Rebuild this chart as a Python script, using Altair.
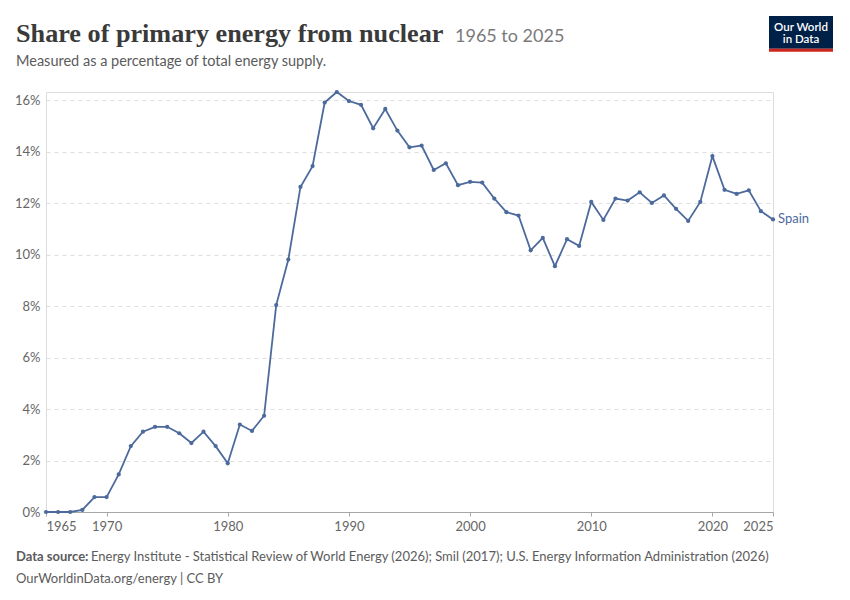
import altair as alt
import pandas as pd

years = list(range(1965, 2026))
share = [
    0.0, 0.0, 0.0, 0.08, 0.58, 0.58, 1.46, 2.56, 3.12, 3.31,
    3.31, 3.06, 2.68, 3.12, 2.56, 1.89, 3.40, 3.15, 3.74, 8.04,
    9.81, 12.63, 13.44, 15.91, 16.32, 15.97, 15.82, 14.91, 15.66, 14.82,
    14.17, 14.24, 13.29, 13.55, 12.70, 12.83, 12.80, 12.18, 11.65, 11.52,
    10.17, 10.65, 9.55, 10.60, 10.34, 12.05, 11.35, 12.18, 12.10, 12.42,
    12.01, 12.30, 11.78, 11.31, 12.05, 13.83, 12.52, 12.36, 12.50, 11.69,
    11.37,
]
country = "Spain"
x_ticks = [1965, 1970, 1980, 1990, 2000, 2010, 2020, 2025]
y_ticks = [0, 2, 4, 6, 8, 10, 12, 14, 16]

title = "Share of primary energy from nuclear"
title_range = "1965 to 2025"
subtitle = "Measured as a percentage of total energy supply."
source_label = "Data source:"
source_text = ("Energy Institute - Statistical Review of World Energy (2026); "
               "Smil (2017); U.S. Energy Information Administration (2026)")
footer = "OurWorldinData.org/energy | CC BY"

df = pd.DataFrame({"year": years, "share": share, "country": country})
last = df.tail(1)

BLUE = "#4C6A9C"
W, H = 727, 420

xs = alt.X("year:Q", scale=alt.Scale(domain=[1965, 2025], nice=False, zero=False),
           axis=alt.Axis(values=x_ticks, format="d", title=None, grid=False,
                         labelFlush=True, domainColor="#a6a6a6", tickColor="#a6a6a6",
                         tickSize=4, labelColor="#666666", labelFont="Lato",
                         labelFontSize=13, labelPadding=4))
ys = alt.Y("share:Q", scale=alt.Scale(domain=[0, 16.32], nice=False),
           axis=alt.Axis(values=y_ticks, labelExpr="datum.value + '%'", title=None,
                         domain=False, ticks=False, grid=True, gridDash=[4, 4],
                         gridColor="#dddddd", labelColor="#666666", labelFont="Lato",
                         labelFontSize=13, labelPadding=6))

line = alt.Chart(df).mark_line(color=BLUE, strokeWidth=1.8).encode(x=xs, y=ys)
pts = alt.Chart(df).mark_point(color=BLUE, filled=True, size=18, opacity=1).encode(x=xs, y=ys)
lab = alt.Chart(last).mark_text(color=BLUE, align="left", baseline="middle", dx=5,
                                font="Lato", fontSize=13).encode(x=xs, y=ys, text="country:N")


def txt(s, x, y, **kw):
    return alt.Chart(pd.DataFrame({"t": [s]})).mark_text(
        align=kw.pop("align", "left"), baseline="alphabetic", **kw
    ).encode(text="t:N", x=alt.value(x), y=alt.value(y))


t1 = txt(title, -30, -50, font="Liberation Serif", fontSize=26.2, fontWeight=600, color="#3a3a3a")
t2 = txt(title_range, 409, -50, font="Lato", fontSize=18, color="#7a7a7a")
t3 = txt(subtitle, -30, -26, font="Lato", fontSize=14.5, color="#5b5b5b")
f1 = txt(source_label, -30, 469, font="Lato", fontSize=13, fontWeight="bold", color="#5b5b5b")
f2 = txt(source_text, 45, 469, font="Lato", fontSize=13, color="#5b5b5b")
f3 = txt(footer, -30, 491, font="Lato", fontSize=13, color="#5b5b5b")

logo_df = pd.DataFrame({"a": [0]})
logo_bg = alt.Chart(logo_df).mark_rect(color="#002147").encode(
    x=alt.value(723), x2=alt.value(787), y=alt.value(-76), y2=alt.value(-43.3))
logo_bar = alt.Chart(logo_df).mark_rect(color="#ce261e").encode(
    x=alt.value(723), x2=alt.value(787), y=alt.value(-43.3), y2=alt.value(-40.3))
l1 = txt("Our World", 755, -61.5, align="center", font="Lato", fontSize=11.5, fontWeight=600, color="white")
l2 = txt("in Data", 755, -49.5, align="center", font="Lato", fontSize=11.5, fontWeight=600, color="white")

chart = alt.layer(line, pts, lab, t1, t2, t3, f1, f2, f3, logo_bg, logo_bar, l1, l2).properties(
    width=W, height=H,
    autosize=alt.AutoSizeParams(type="none"),
    padding={"left": 38, "top": 84, "right": 69, "bottom": 80},
).configure_view(stroke=None).configure(background="white")

chart.save("out.html", embed_options={"renderer": "svg", "actions": False})
